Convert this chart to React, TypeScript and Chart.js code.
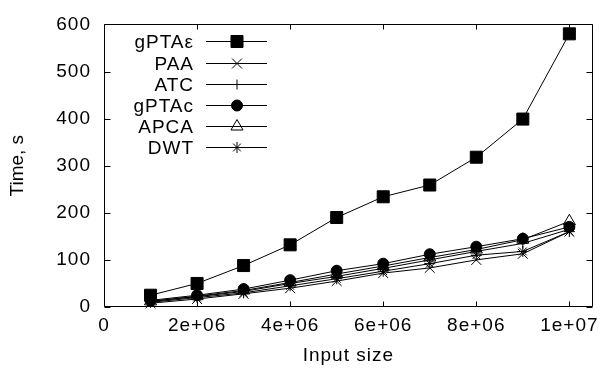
import React, { useEffect, useRef } from 'react';
import { Chart, registerables } from 'chart.js';
import { drawPoint } from 'chart.js/helpers';

Chart.register(...registerables);

// ---- data ----
const inputSizes = [1e6, 2e6, 3e6, 4e6, 5e6, 6e6, 7e6, 8e6, 9e6, 1e7];
const gptaEps = [25, 50, 88, 132, 190, 234, 259, 318, 399, 580];
const paa = [8, 17, 28, 40, 55, 72, 83, 100, 113, 160];
const atc = [12, 22, 33, 50, 65, 82, 100, 118, 135, 165];
const gptaC = [14, 25, 38, 57, 77, 92, 112, 128, 145, 170];
const apca = [12, 23, 35, 52, 70, 87, 105, 122, 143, 182];
const dwt = [10, 20, 30, 45, 60, 76, 92, 110, 118, 160];
const seriesNames = ['gPTAε', 'PAA', 'ATC', 'gPTAc', 'APCA', 'DWT'];
const xTicks = [0, 2e6, 4e6, 6e6, 8e6, 1e7];
const yTicks = [0, 100, 200, 300, 400, 500, 600];
const xTitle = 'Input size';
const yTitle = 'Time, s';

const FONT = 'Liberation Sans';
const SIZE = 19;
const SPACING = '1px';

const fmtX = (v: number) =>
  v === 0 ? '0' : v.toExponential().replace(/e\+(\d)$/, 'e+0$1');

const styles = [
  { pointStyle: 'rect', radius: 8.5, fill: '#000' },
  { pointStyle: 'crossRot', radius: 7, fill: '#000' },
  { pointStyle: 'cross', radius: 5, fill: '#000' },
  { pointStyle: 'circle', radius: 5.5, fill: '#000' },
  { pointStyle: 'triangle', radius: 7, fill: 'rgba(0,0,0,0)' },
  { pointStyle: 'star', radius: 5.5, fill: '#000' },
];

const framePlugin = {
  id: 'gnuFrame',
  beforeUpdate(chart: any) {
    chart.ctx.letterSpacing = SPACING;
  },
  beforeDraw(chart: any) {
    chart.ctx.letterSpacing = SPACING;
  },
  beforeDatasetsDraw(chart: any) {
    const { ctx, chartArea, scales } = chart;
    const { left, right, top, bottom } = chartArea;
    const L = Math.round(left) + 0.5;
    const R = Math.round(right) - 0.5;
    const T = Math.round(top) + 0.5;
    const B = Math.round(bottom) - 0.5;
    ctx.save();
    ctx.strokeStyle = '#000';
    ctx.lineWidth = 1;
    ctx.beginPath();
    ctx.rect(L, T, R - L, B - T);
    const tl = 5;
    for (const v of xTicks) {
      const px = Math.round(scales.x.getPixelForValue(v)) + 0.5;
      ctx.moveTo(px, B);
      ctx.lineTo(px, B - tl);
      ctx.moveTo(px, T);
      ctx.lineTo(px, T + tl);
    }
    for (const v of yTicks) {
      const py = Math.round(scales.y.getPixelForValue(v)) + 0.5;
      ctx.moveTo(L, py);
      ctx.lineTo(L + 6, py);
      ctx.moveTo(R, py);
      ctx.lineTo(R - 6, py);
    }
    ctx.stroke();
    ctx.restore();
  },
  afterDatasetsDraw(chart: any) {
    const { ctx, chartArea } = chart;
    const { left, top } = chartArea;
    ctx.save();
    ctx.font = `${SIZE}px "${FONT}"`;
    ctx.fillStyle = '#000';
    ctx.textAlign = 'right';
    ctx.textBaseline = 'middle';
    seriesNames.forEach((name, i) => {
      const y = Math.round(top + 17 + i * 21.2) + 0.5;
      ctx.letterSpacing = SPACING;
      ctx.fillStyle = '#000';
      ctx.fillText(name, left + 90, y + 1);
      ctx.strokeStyle = '#000';
      ctx.lineWidth = 1;
      ctx.beginPath();
      ctx.moveTo(left + 102, y);
      ctx.lineTo(left + 163, y);
      ctx.stroke();
      const st = styles[i];
      ctx.fillStyle = st.fill;
      drawPoint(ctx, { pointStyle: st.pointStyle as any, radius: st.radius, rotation: 0, borderWidth: 1 }, left + 133, y);
    });
    // y-axis title (rotated)
    ctx.letterSpacing = '0px';
    ctx.fillStyle = '#000';
    ctx.textAlign = 'center';
    ctx.textBaseline = 'middle';
    ctx.translate(18, (chartArea.top + chartArea.bottom) / 2);
    ctx.rotate(-Math.PI / 2);
    ctx.fillText(yTitle, 0, 0);
    ctx.restore();
  },
};

export default function App() {
  const ref = useRef<HTMLCanvasElement | null>(null);
  useEffect(() => {
    if (!ref.current) return;
    Chart.defaults.font.family = FONT;
    Chart.defaults.font.size = SIZE;
    Chart.defaults.color = '#000';
    const seriesData = [gptaEps, paa, atc, gptaC, apca, dwt];
    const datasets = seriesData.map((vals, i) => ({
      label: seriesNames[i],
      data: inputSizes.map((x, j) => ({ x, y: vals[j] })),
      borderColor: '#000',
      borderWidth: 1,
      pointStyle: styles[i].pointStyle as any,
      pointRadius: styles[i].radius,
      pointBackgroundColor: styles[i].fill,
      pointBorderColor: '#000',
      pointBorderWidth: 1,
      tension: 0,
      clip: false as any,
      order: -i,
    }));
    const chart = new Chart(ref.current, {
      type: 'line',
      data: { datasets },
      plugins: [framePlugin],
      options: {
        animation: false,
        responsive: false,
        devicePixelRatio: 1,
        events: [],
        layout: { padding: { top: 19, right: 9, left: 0, bottom: 0 } },
        plugins: { legend: { display: false }, tooltip: { enabled: false } },
        scales: {
          x: {
            type: 'linear',
            min: 0,
            max: 1.05e7,
            afterBuildTicks: (s: any) => {
              s.ticks = xTicks.map((v) => ({ value: v }));
            },
            afterFit: (s: any) => {
              s.height = 65;
            },
            grid: { display: false, drawTicks: false },
            border: { display: false },
            ticks: {
              autoSkip: false,
              maxRotation: 0,
              padding: 7,
              callback: (v: any) => fmtX(Number(v)),
            },
            title: { display: true, text: xTitle, padding: { top: 0, bottom: 5 } },
          },
          y: {
            type: 'linear',
            min: 0,
            max: 600,
            afterBuildTicks: (s: any) => {
              s.ticks = yTicks.map((v) => ({ value: v }));
            },
            afterFit: (s: any) => {
              s.width = 104;
            },
            grid: { display: false, drawTicks: false },
            border: { display: false },
            ticks: { padding: 13, callback: (v: any) => String(v) },
            title: { display: false },
          },
        },
      },
    });
    return () => chart.destroy();
  }, []);
  return (
    <div style={{ position: 'absolute', left: 0, top: 0, width: 606, height: 372, background: '#fff' }}>
      <canvas ref={ref} width={606} height={372} style={{ display: 'block' }} />
    </div>
  );
}
